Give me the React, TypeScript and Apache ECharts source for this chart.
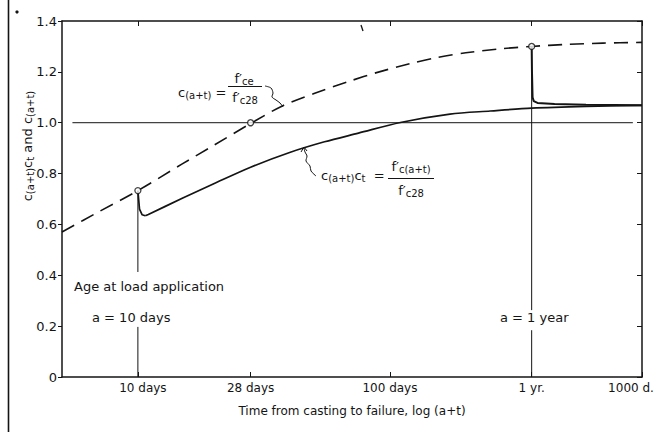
import React, { useEffect, useRef } from 'react';
import * as echarts from 'echarts';

// ---- data (days, ratio) ----
const dashedDays = [5, 7, 10, 15, 20, 28, 37.6, 50, 70, 88.5, 120, 153, 200, 270, 365, 500, 700, 1000];
const dashedValues = [0.57, 0.65, 0.733, 0.838, 0.911, 0.997, 1.067, 1.115, 1.165, 1.197, 1.232, 1.256, 1.275, 1.29, 1.3, 1.308, 1.313, 1.316];

// sustained-load curve: initial drop after loading at 10 days, then gain
const solidDays = [10, 10.15, 10.4, 10.7, 11, 15, 20, 28, 40, 55, 75, 110, 173, 250, 365, 600, 1000];
const solidValues = [0.733, 0.66, 0.638, 0.634, 0.639, 0.703, 0.76, 0.825, 0.883, 0.925, 0.959, 1.001, 1.034, 1.046, 1.057, 1.064, 1.068];
const solidDropCount = 4; // points of the sharp drop

const reloadDays = [365, 366, 368, 372, 385, 450, 600, 1000];
const reloadValues = [1.3, 1.2, 1.1, 1.085, 1.078, 1.074, 1.071, 1.069];

const circleDays = [10, 28, 365];
const circleValues = [0.733, 1.0, 1.3];

const refLineDays = [5.5, 920];
const refLineValue = 1.0;

// vertical load-application lines: [day, top, gapTop, gapBottom, bottom]
const load10 = [10, 0.733, 0.413, 0.197, 0];
const load365 = [365, 1.3, 0.263, 0.184, 0];

const tickDays = [10, 28, 100, 365, 1000];
const tickLabels = ['10 days', '28 days', '100 days', '1 yr.', '1000 d.'];

const yMin = 0;
const yMax = 1.4;
const yStep = 0.2;
const xMinDays = 5;
const xMaxDays = 1000;

const FONT = 'DejaVu Sans';
const INK = '#141414';

const L = (d: number) => Math.log10(d);
const pts = (ds: number[], vs: number[]) => ds.map((d, i) => [L(d), vs[i]]);

export default function App() {
  const ref = useRef<HTMLDivElement>(null);
  useEffect(() => {
    document.body.style.margin = '0';
    const chart = echarts.init(ref.current!, null, { renderer: 'svg' });

    const labelRich: any = {};
    tickLabels.forEach((_, i) => {
      labelRich['r' + i] = {
        fontFamily: FONT,
        fontSize: 12,
        color: INK,
        padding: i === 0 ? [0, 0, 0, 10] : i === tickLabels.length - 1 ? [0, 22, 0, 0] : [0, 0, 0, 0],
      };
    });

    const vSeg = (spec: number[]) => [
      {
        type: 'line',
        data: [[L(spec[0]), spec[1]], [L(spec[0]), spec[2]]],
        symbol: 'none',
        lineStyle: { color: INK, width: 1 },
        z: 1,
      },
      {
        type: 'line',
        data: [[L(spec[0]), spec[3]], [L(spec[0]), spec[4]]],
        symbol: 'none',
        lineStyle: { color: INK, width: 1 },
        z: 1,
      },
    ];

    const sub = { fontFamily: FONT, fontSize: 10, color: INK, padding: [6, 0, 0, 0] };
    const main = { fontFamily: FONT, fontSize: 13, color: INK };
    const rich = { m: main, s: sub };

    const txt = (x: number, y: number, text: string, align = 'left', extra: any = {}) => ({
      type: 'text',
      x,
      y,
      z: 10,
      style: { text, rich, fill: INK, font: `13px ${FONT}`, align, verticalAlign: 'middle' },
      ...extra,
    });

    const line = (x1: number, y1: number, x2: number, y2: number, w = 1) => ({
      type: 'line',
      z: 10,
      shape: { x1, y1, x2, y2 },
      style: { stroke: INK, lineWidth: w },
    });

    const poly = (p: number[][], w = 1) => ({
      type: 'polyline',
      z: 10,
      shape: { points: p, smooth: 0.3 },
      style: { stroke: INK, lineWidth: w, fill: 'none' },
    });

    const solidPts = pts(solidDays, solidValues);

    const option: any = {
      animation: false,
      backgroundColor: '#fff',
      grid: { left: 62, right: 16, top: 21, bottom: 55, containLabel: false },
      xAxis: [
        {
          type: 'value',
          position: 'bottom',
          min: L(xMinDays),
          max: L(xMaxDays),
          axisLine: { show: true, onZero: false, lineStyle: { color: INK, width: 1.5 } },
          axisTick: { show: true, inside: true, length: 5, customValues: tickDays.map(L), lineStyle: { color: INK, width: 1 } },
          axisLabel: {
            customValues: tickDays.map(L),
            margin: 5,
            fontFamily: FONT,
            fontSize: 12,
            color: INK,
            formatter: (v: number) => {
              const i = tickDays.findIndex((d) => Math.abs(L(d) - v) < 1e-6);
              return i < 0 ? '' : `{r${i}|${tickLabels[i]}}`;
            },
            rich: labelRich,
          },
          splitLine: { show: false },
          name: 'Time from casting to failure, log (a+t)',
          nameLocation: 'middle',
          nameGap: 28,
          nameTextStyle: { fontFamily: FONT, fontSize: 12, color: INK },
        },
        {
          type: 'value',
          position: 'top',
          min: L(xMinDays),
          max: L(xMaxDays),
          axisLine: { show: true, onZero: false, lineStyle: { color: INK, width: 1.5 } },
          axisTick: { show: true, inside: true, length: 5, customValues: tickDays.map(L), lineStyle: { color: INK, width: 1 } },
          axisLabel: { show: false },
          splitLine: { show: false },
        },
      ],
      yAxis: [
        {
          type: 'value',
          position: 'left',
          min: yMin,
          max: yMax,
          interval: yStep,
          axisLine: { show: true, onZero: false, lineStyle: { color: INK, width: 1.5 } },
          axisTick: { show: true, inside: false, length: 4, lineStyle: { color: INK, width: 1 } },
          axisLabel: {
            margin: 5,
            fontFamily: FONT,
            fontSize: 13,
            color: INK,
            formatter: (v: number) => (v === 0 ? '0' : v.toFixed(1)),
          },
          splitLine: { show: false },
        },
        {
          type: 'value',
          position: 'right',
          min: yMin,
          max: yMax,
          interval: yStep,
          axisLine: { show: true, onZero: false, lineStyle: { color: INK, width: 1.5 } },
          axisTick: { show: true, inside: true, length: 5, lineStyle: { color: INK, width: 1 } },
          axisLabel: { show: false },
          splitLine: { show: false },
        },
      ],
      series: [
        {
          type: 'line',
          data: [[L(refLineDays[0]), refLineValue], [L(refLineDays[1]), refLineValue]],
          symbol: 'none',
          lineStyle: { color: INK, width: 1 },
          z: 1,
        },
        ...vSeg(load10),
        ...vSeg(load365),
        {
          type: 'line',
          data: pts(dashedDays, dashedValues),
          symbol: 'none',
          smooth: 0.3,
          lineStyle: { color: INK, width: 1.6, type: [14, 8] },
          z: 2,
        },
        {
          type: 'line',
          data: solidPts.slice(0, solidDropCount),
          symbol: 'none',
          lineStyle: { color: INK, width: 1.7 },
          z: 3,
        },
        {
          type: 'line',
          data: solidPts.slice(solidDropCount - 1),
          symbol: 'none',
          smooth: 0.3,
          lineStyle: { color: INK, width: 1.7 },
          z: 3,
        },
        {
          type: 'line',
          data: pts(reloadDays, reloadValues),
          symbol: 'none',
          lineStyle: { color: INK, width: 2 },
          z: 3,
        },
        {
          type: 'scatter',
          data: pts(circleDays, circleValues),
          symbol: 'circle',
          symbolSize: 6,
          itemStyle: { color: '#fff', borderColor: INK, borderWidth: 1.3 },
          z: 5,
        },
      ],
      graphic: [
        line(8.5, 0, 8.5, 432, 1.6),
        { type: 'circle', shape: { cx: 17, cy: 12, r: 1.6 }, style: { fill: INK } },
        line(361, 25, 363, 31, 1.3),
        {
          type: 'text',
          x: 27,
          y: 146,
          rotation: Math.PI / 2,
          style: {
            text: '{m|c}{s|(a+t)}{m|c}{s|t}{m| and c}{s|(a+t)}',
            rich,
            align: 'center',
            verticalAlign: 'middle',
            fill: INK,
          },
        },
        // formula 1
        txt(178, 92, '{m|c}{s|(a+t)}{m| =}'),
        txt(244, 78, '{m|f′}{s|ce}', 'center'),
        line(228, 86.5, 262, 86.5, 1),
        txt(245, 97, '{m|f′}{s|c28}', 'center'),
        poly([[265, 86], [271, 88], [273, 93], [272, 97], [276, 100], [280, 103], [283, 107]]),
        // formula 2
        txt(321, 175, '{m|c}{s|(a+t)}{m|c}{s|t}{m|  =}'),
        txt(411, 166, '{m|f′}{s|c(a+t)}', 'center'),
        line(388, 178.5, 434, 178.5, 1),
        txt(411, 190, '{m|f′}{s|c28}', 'center'),
        poly([[316, 176], [311, 171], [310, 166], [306, 161], [307, 156], [305, 152], [304, 148]]),
        { type: 'polyline', z: 10, shape: { points: [[301, 152], [304, 147], [307, 151]] }, style: { stroke: INK, lineWidth: 1, fill: 'none' } },
        // load labels
        txt(74, 286, '{m|Age at load application}'),
        txt(92, 317, '{m|a = 10 days}'),
        txt(500, 317, '{m|a = 1 year}'),
      ],
    };

    chart.setOption(option);
    return () => chart.dispose();
  }, []);

  return <div ref={ref} style={{ position: 'fixed', left: 0, top: 0, width: 658, height: 432, background: '#fff' }} />;
}
